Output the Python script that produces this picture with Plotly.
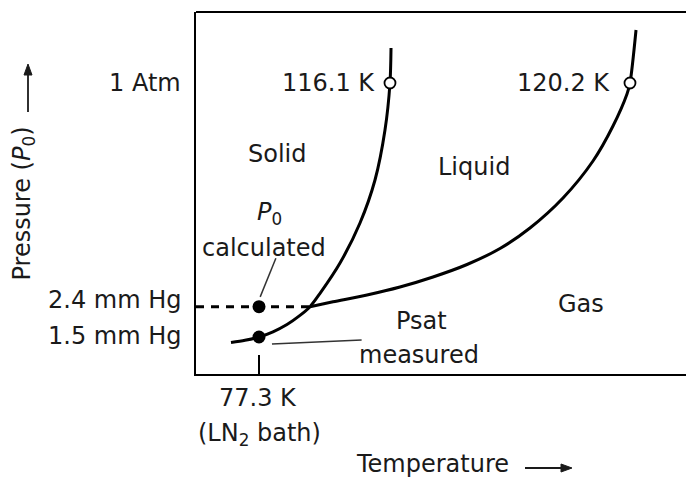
import plotly.graph_objects as go

# Schematic phase diagram, arbitrary units (0-100 on both axes)
# Sublimation + melting curve (solid boundary)
solid_T = [7.14, 10.0, 12.86, 15.71, 18.57, 21.22, 23.27, 25.31, 29.39, 33.47, 36.53, 38.57, 39.59, 39.80]
solid_P = [8.70, 9.31, 10.22, 11.66, 13.67, 16.19, 18.6, 22.27, 30.66, 41.71, 53.59, 67.40, 80.39, 90.06]
# Vaporisation curve (liquid / gas boundary)
vap_T = [23.27, 27.96, 34.90, 41.63, 48.37, 55.31, 62.04, 68.16, 74.90, 81.02, 85.10, 87.96, 88.57, 89.80]
vap_P = [18.6, 19.94, 21.82, 24.03, 26.80, 30.25, 34.67, 40.33, 48.62, 58.84, 68.51, 77.35, 80.39, 95.03]
# Dashed P0 line to triple point
dash_T = [0.0, 23.27]
dash_P = [18.6, 18.6]
# Filled points: P0 calculated, Psat measured
dot_T = [12.86, 12.86]
dot_P = [18.6, 10.22]
# Open circles at 1 atm
ring_T = [39.59, 88.57]
ring_P = [80.39, 80.39]
ring_labels = ["116.1 K", "120.2 K"]
ring_label_right = [36.9, 84.8]
# Pressure labels (axis values)
p_labels = ["1 Atm", "2.4 mm Hg", "1.5 mm Hg"]
p_label_pos = [80.4, 20.4, 10.5]
# Temperature tick
t_tick = [12.86]
t_label = ["77.3 K", "(LN<sub>2</sub> bath)"]
# Region labels
region_text = ["Solid", "Liquid", "Gas", "Psat", "measured", "calculated", "<i>P</i><sub>0</sub>"]
region_T = [16.6, 56.7, 78.5, 46.0, 45.6, 13.9, 15.1]
region_P = [60.8, 57.2, 19.3, 14.6, 5.2, 34.8, 44.3]
# Leader lines
lead1_T = [13.1, 16.3]
lead1_P = [21.3, 32.0]
lead2_T = [15.5, 33.8]
lead2_P = [8.3, 9.4]

FONT = "DejaVu Sans"
FS = 24
INK = "#1a1a1a"
L, T, W, H = 196, 12, 490, 362  # plot area in pixels


def px(x):
    return (x - L) / W


def py(y):
    return (T + H - y) / H


fig = go.Figure()
line_common = dict(mode="lines", showlegend=False, hoverinfo="skip")
fig.add_trace(go.Scatter(x=solid_T, y=solid_P, line=dict(color="black", width=3, shape="spline", smoothing=0.8), **line_common))
fig.add_trace(go.Scatter(x=vap_T, y=vap_P, line=dict(color="black", width=3, shape="spline", smoothing=0.8), **line_common))
fig.add_trace(go.Scatter(x=dash_T, y=dash_P, line=dict(color="black", width=3, dash="8px,7px"), **line_common))
fig.add_trace(go.Scatter(x=lead1_T, y=lead1_P, line=dict(color="#333", width=1.5), **line_common))
fig.add_trace(go.Scatter(x=lead2_T, y=lead2_P, line=dict(color="#333", width=1.5), **line_common))
fig.add_trace(go.Scatter(x=dot_T, y=dot_P, mode="markers", marker=dict(color="black", size=13), showlegend=False, hoverinfo="skip"))
fig.add_trace(go.Scatter(x=ring_T, y=ring_P, mode="markers", marker=dict(color="white", size=11, line=dict(color="black", width=1.8)), showlegend=False, hoverinfo="skip"))

font = dict(family=FONT, size=FS, color=INK)
ann = []
for t, x, y in zip(ring_labels, ring_label_right, ring_P):
    ann.append(dict(x=x, y=y, xref="x", yref="y", text=t, xanchor="right"))
for t, y in zip(p_labels, p_label_pos):
    ann.append(dict(x=px(183), y=y / 100, xref="paper", yref="paper", text=t, xanchor="right"))
for t, x, y in zip(region_text, region_T, region_P):
    ann.append(dict(x=x, y=y, xref="x", yref="y", text=t, xanchor="center"))
ann.append(dict(x=px(257.5), y=py(398), xref="paper", yref="paper", text=t_label[0], xanchor="center"))
ann.append(dict(x=px(259.5), y=py(434), xref="paper", yref="paper", text=t_label[1], xanchor="center"))
ann.append(dict(x=px(432.5), y=py(464), xref="paper", yref="paper", text="Temperature", xanchor="center"))
ann.append(dict(x=px(23), y=py(203.5), xref="paper", yref="paper", text="Pressure (<i>P</i><sub>0</sub>)", textangle=-90, xanchor="center"))
for a in ann:
    a.update(showarrow=False, yanchor="middle", font=font)

shapes = [dict(type="line", xref="paper", yref="paper", x0=0, x1=1, y0=1, y1=1, line=dict(color="black", width=2))]
# axis arrows (decoration)
shapes.append(dict(type="line", xref="paper", yref="paper", x0=px(525), x1=px(563), y0=py(468), y1=py(468), line=dict(color=INK, width=1.8)))
shapes.append(dict(type="path", xref="paper", yref="paper",
                   path=f"M {px(561)},{py(464)} L {px(572)},{py(468)} L {px(561)},{py(472)} Z",
                   fillcolor=INK, line=dict(color=INK, width=1)))
shapes.append(dict(type="line", xref="paper", yref="paper", x0=px(28), x1=px(28), y0=py(112), y1=py(73), line=dict(color=INK, width=1.8)))
shapes.append(dict(type="path", xref="paper", yref="paper",
                   path=f"M {px(24)},{py(75)} L {px(28)},{py(64)} L {px(32)},{py(75)} Z",
                   fillcolor=INK, line=dict(color=INK, width=1)))

fig.update_layout(
    width=686, height=479,
    margin=dict(l=196, r=0, t=12, b=105),
    paper_bgcolor="white", plot_bgcolor="white",
    annotations=ann,
    shapes=shapes,
    xaxis=dict(range=[0, 100], showgrid=False, zeroline=False, showline=True, linecolor="black", linewidth=2,
               tickvals=t_tick, showticklabels=False, ticks="inside", ticklen=19, tickwidth=1.5, tickcolor="black"),
    yaxis=dict(range=[0, 100], showgrid=False, zeroline=False, showline=True, linecolor="black", linewidth=2,
               showticklabels=False, ticks=""),
    showlegend=False,
)
fig.write_html("out.html", config={"displayModeBar": False},
               post_script="document.body.style.margin='0';document.body.style.overflow='hidden';")
